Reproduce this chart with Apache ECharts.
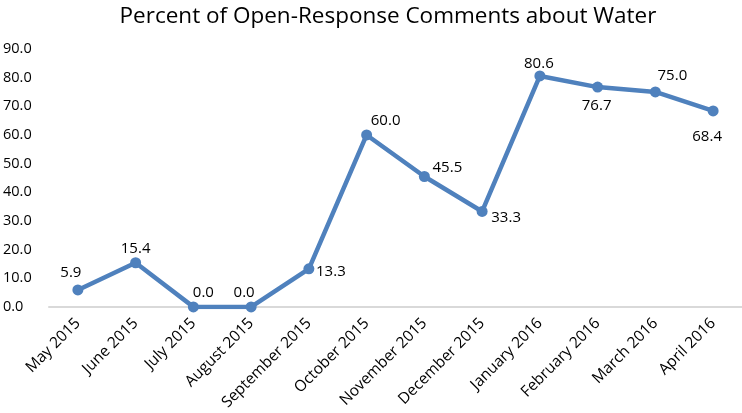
<!DOCTYPE html>
<html><head><meta charset="utf-8">
<script src="https://cdn.jsdelivr.net/npm/echarts@6/dist/echarts.min.js"></script>
<style>html,body{margin:0;padding:0;background:#fff}#c{width:742px;height:413px}</style>
</head><body><div id="c"></div>
<script>
const categories = ['May 2015','June 2015','July 2015','August 2015','September 2015','October 2015','November 2015','December 2015','January 2016','February 2016','March 2016','April 2016'];
const values = [5.9, 15.4, 0.0, 0.0, 13.3, 60.0, 45.5, 33.3, 80.6, 76.7, 75.0, 68.4];
const yTicks = [0,10,20,30,40,50,60,70,80,90];

// label offsets from point centre (style only)
const labelOffsets = [[-7,-17],[0,-14],[10,-14],[-7,-14],[22,3],[19,-14],[23,-9],[24,6],[-1,-12],[-1,19],[17,-16],[-6,26]];

const font = '"Open Sans", "Noto Sans", sans-serif';
const chart = echarts.init(document.getElementById('c'), null, {renderer:'canvas'});
chart.setOption({
  animation:false,
  title:{text:'Percent of Open-Response Comments about Water', left:383, top:0, textAlign:'center',
    textStyle:{fontFamily:font, fontWeight:'normal', fontSize:22.5, color:'#000'}},
  grid:{left:46, right:0, top:49, bottom:106},
  xAxis:{type:'category', data:categories, boundaryGap:true,
    axisLine:{show:true, lineStyle:{color:'#d9d9d9', width:2}},
    axisTick:{show:false},
    axisLabel:{rotate:45, interval:0, margin:14, color:'#000', fontFamily:font, fontSize:15.5}},
  yAxis:{type:'value', min:yTicks[0], max:yTicks[yTicks.length-1], interval:10,
    splitLine:{show:false}, axisLine:{show:false}, axisTick:{show:false},
    axisLabel:{align:'left', margin:46, color:'#000', fontFamily:font, fontSize:14.5,
      formatter:v=>v.toFixed(1)}},
  series:[{type:'line', data:values.map((v,i)=>({value:v, label:{offset:labelOffsets[i]}})),
    symbol:'circle', symbolSize:11,
    lineStyle:{color:'#4f81bd', width:4.5},
    itemStyle:{color:'#4f81bd'},
    label:{show:true, position:'inside', align:'center', verticalAlign:'middle',
      color:'#000', fontFamily:font, fontSize:15, formatter:p=>p.value.toFixed(1)}
  }]
});
</script></body></html>
